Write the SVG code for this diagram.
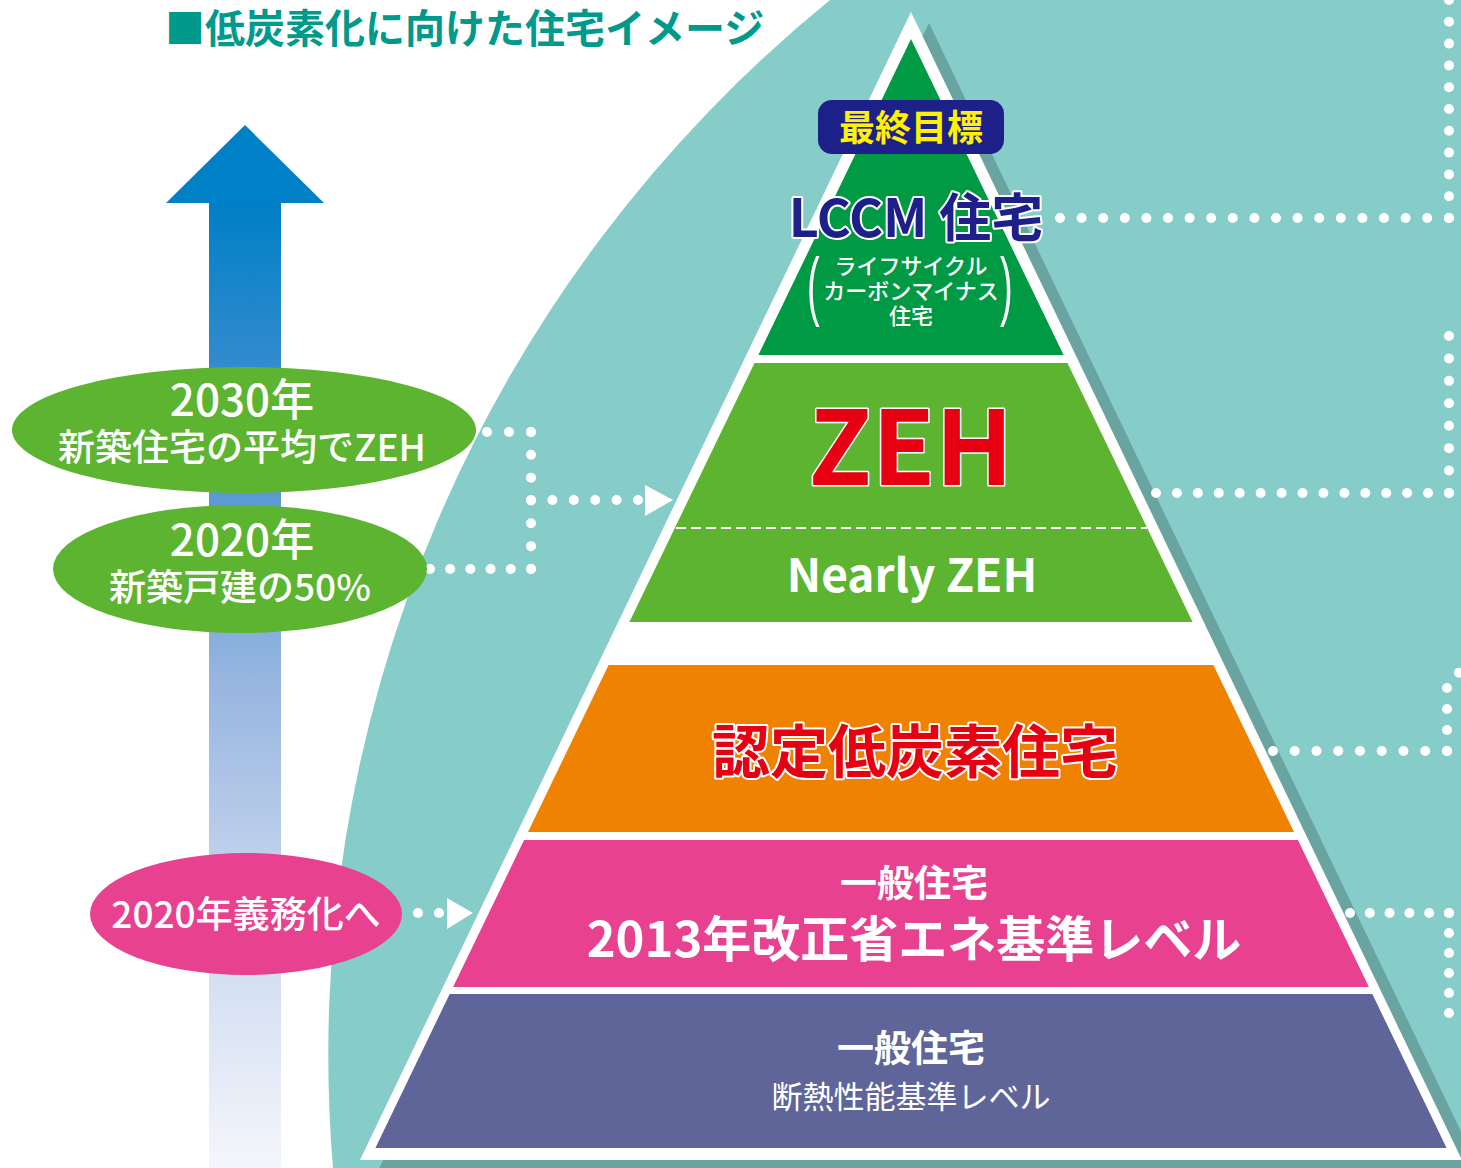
<svg xmlns="http://www.w3.org/2000/svg" width="1461" height="1168" viewBox="0 0 1461 1168">
<defs>
<linearGradient id="shaft" x1="0" y1="203" x2="0" y2="1168" gradientUnits="userSpaceOnUse">
<stop offset="0" stop-color="#007FC6"/>
<stop offset="0.25" stop-color="#4A92D0"/>
<stop offset="0.5" stop-color="#98B6E0"/>
<stop offset="0.72" stop-color="#C7D6EE"/>
<stop offset="1" stop-color="#F4F6FB"/>
</linearGradient>
</defs>
<style>
.jp{font-family:"Noto Sans CJK JP","Noto Sans",sans-serif;}
.b{font-weight:700;}
.m{font-weight:500;}
.w{fill:#FFFFFF;}
.c{text-anchor:middle;}
.dots{fill:none;stroke:#FFFFFF;stroke-width:10;stroke-linecap:round;}
.ol{stroke:#FFFFFF;paint-order:stroke;stroke-linejoin:round;}
</style>
<rect x="0" y="0" width="1461" height="1168" fill="#FFFFFF"/>
<path id="bg" d="M830,0 A1360,1360 0 0 0 333,1168 L1461,1168 L1461,0 Z" fill="#86CCC9"/>
<text class="jp b" x="165" y="43" font-size="40" fill="#009A8C">■低炭素化に向けた住宅イメージ</text>

<g id="arrow">
<polygon points="209,203 281,203 281,1168 209,1168" fill="url(#shaft)"/>
<polygon points="245,125 324,203 166,203" fill="#0080C6"/>
</g>

<g id="pyramid-frame">
<polygon points="929,23 1480,1171 378,1171" fill="#69A4A1"/>
<polygon points="911,12 1462,1160 360,1160" fill="#FFFFFF"/>
</g>

<g id="lccm">
<polygon points="911,39 1063.6,355 758.4,355" fill="#009A44"/>
<rect x="818" y="100" width="186" height="54" rx="14" fill="#1D2088"/>
<text class="jp b c" x="911" y="141" font-size="36" fill="#FFF100">最終目標</text>
<text class="jp b c ol" x="916" y="237" font-size="52" fill="#1D2088" stroke-width="4">LCCM 住宅</text>
<text class="jp m c w" x="911" y="274" font-size="22">ライフサイクル</text>
<text class="jp m c w" x="911" y="299" font-size="22">カーボンマイナス</text>
<text class="jp m c w" x="911" y="324" font-size="22">住宅</text>
<g transform="translate(807,0) scale(0.5,1)"><text x="0" y="311" font-size="76" font-family="Liberation Sans, sans-serif" class="w">(</text></g>
<g transform="translate(1000,0) scale(0.5,1)"><text x="0" y="311" font-size="76" font-family="Liberation Sans, sans-serif" class="w">)</text></g>
</g>

<g id="zeh">
<polygon points="754.5,363 1067.5,363 1192.6,622 629.4,622" fill="#5DB431"/>
<line x1="676" y1="528" x2="1147" y2="528" stroke="#FFFFFF" stroke-width="2" stroke-dasharray="10 5"/>
<text class="jp b c ol" x="911" y="485" font-size="103" fill="#E60012" stroke-width="3">ZEH</text>
<text class="jp b c w" x="912" y="592" font-size="46">Nearly ZEH</text>
</g>

<g id="nintei">
<polygon points="608.6,665 1213.4,665 1294,832 528,832" fill="#EF8200"/>
<text class="jp b c ol" x="915" y="773" font-size="58" fill="#E60012" stroke-width="4">認定低炭素住宅</text>
</g>

<g id="ippan2013">
<polygon points="524.1,840 1297.9,840 1368.9,987 453.1,987" fill="#E7418F"/>
<text class="jp b c w" x="914" y="897" font-size="37">一般住宅</text>
<text class="jp b c w" x="914" y="957" font-size="49">2013年改正省エネ基準レベル</text>
</g>

<g id="ippan">
<polygon points="449.7,994 1372.3,994 1446.6,1148 375.4,1148" fill="#5F6499"/>
<text class="jp b c w" x="911" y="1062" font-size="37">一般住宅</text>
<text class="jp c w" x="911" y="1108" font-size="31">断熱性能基準レベル</text>
</g>

<g id="connectors">
<path class="dots" d="M487,432 H531.5" stroke-dasharray="0 22"/>
<path class="dots" d="M531,432 V569.5" stroke-dasharray="0 22.83"/>
<path class="dots" d="M430,569 H531.5" stroke-dasharray="0 20.2"/>
<path class="dots" d="M531,500 H638.5" stroke-dasharray="0 21.4"/>
<polygon points="645,485 673,500 645,516" fill="#FFFFFF"/>
<path class="dots" d="M418,913 H439.5" stroke-dasharray="0 21"/>
<polygon points="447,898 473,913 447,929" fill="#FFFFFF"/>
<path class="dots" d="M1060,218 H1449.5" stroke-dasharray="0 21.6"/>
<path class="dots" d="M1449,218 V-0.5" stroke-dasharray="0 21.8"/>
<path class="dots" d="M1156,493 H1449.5" stroke-dasharray="0 20.93"/>
<path class="dots" d="M1449,493 V335.5" stroke-dasharray="0 22.43"/>
<path class="dots" d="M1273,751 H1447.5" stroke-dasharray="0 21.75"/>
<path class="dots" d="M1447,751 V688 Q1447,676 1461,672" stroke-dasharray="0 21"/>
<path class="dots" d="M1350,913 H1449.5" stroke-dasharray="0 19.8"/>
<path class="dots" d="M1449,913 V1013.5" stroke-dasharray="0 20"/>
</g>

<g id="goal2030">
<ellipse cx="244" cy="430" rx="232" ry="63" fill="#5DB431"/>
<text class="jp m c w" x="242" y="416" font-size="44">2030年</text>
<text class="jp m c w" x="242" y="461" font-size="37">新築住宅の平均でZEH</text>
</g>
<g id="goal2020">
<ellipse cx="240" cy="569" rx="187" ry="64" fill="#5DB431"/>
<text class="jp m c w" x="242" y="556" font-size="44">2020年</text>
<text class="jp m c w" x="240" y="601" font-size="37">新築戸建の50%</text>
</g>
<g id="mandate2020">
<ellipse cx="246" cy="914" rx="156" ry="61" fill="#E7418F"/>
<text class="jp m c w" x="246" y="928" font-size="37">2020年義務化へ</text>
</g>
</svg>
